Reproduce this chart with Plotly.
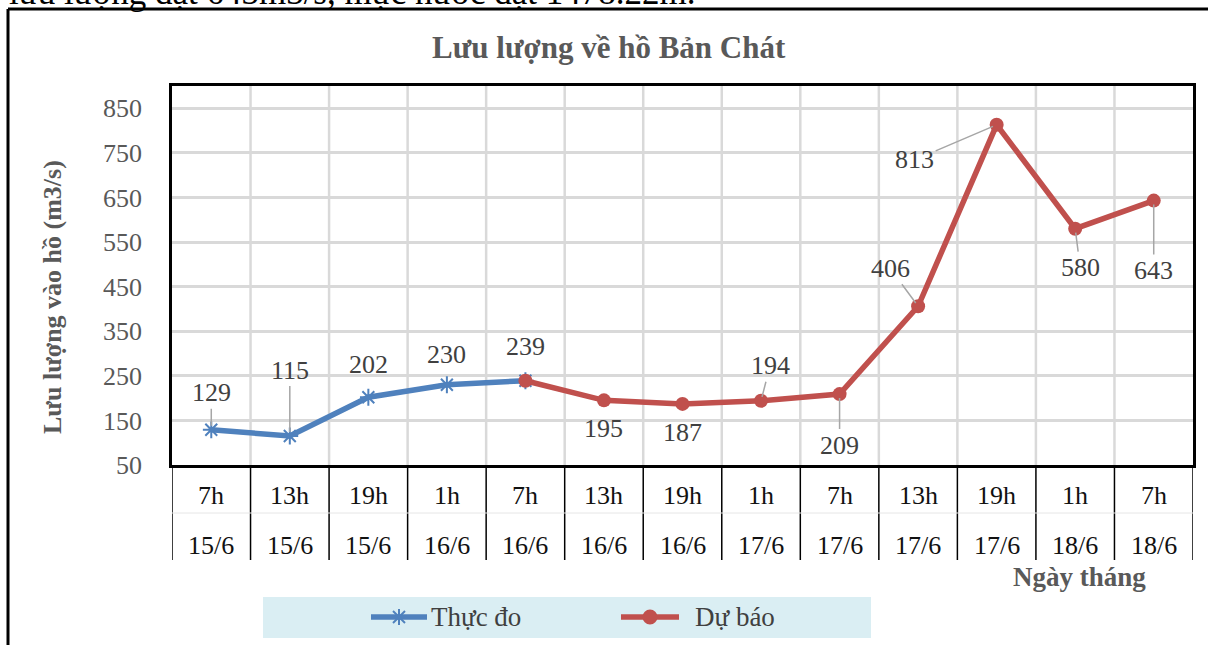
import plotly.graph_objects as go

# ---- data ----
hours = ["7h", "13h", "19h", "1h", "7h", "13h", "19h", "1h", "7h", "13h", "19h", "1h", "7h"]
dates = ["15/6", "15/6", "15/6", "16/6", "16/6", "16/6", "16/6", "17/6", "17/6", "17/6", "17/6", "18/6", "18/6"]
thuc_do_idx = [0, 1, 2, 3, 4]
thuc_do = [129, 115, 202, 230, 239]
du_bao_idx = [4, 5, 6, 7, 8, 9, 10, 11, 12]
du_bao = [239, 195, 187, 194, 209, 406, 813, 580, 643]
series_names = ["Thực đo", "Dự báo"]

# label offsets (px) and whether leader line is shown
lbl_td = [(0, -37, True), (0, -66, True), (0, -33, False), (0, -30, False), (0, -34, False)]
lbl_db = [None, (0, 28, False), (0, 29, False), (9, -35, True), (0, 51, True),
          (-28, -38, True), (-82, 35, True), (5, 39, True), (0, 70, True)]

W, H = 1208, 645
L, R, T, B = 172, 1193, 86, 465
PW, PH = R - L, B - T
SERIF = "Liberation Serif"


def px(x):
    return (x - L) / PW


def py(y):
    return (B - y) / PH


BLUE = "#4F81BD"
RED = "#C0504D"
GRID = "#D9D9D9"

fig = go.Figure()
fig.add_trace(go.Scatter(
    x=thuc_do_idx, y=thuc_do, name=series_names[0], mode="lines+markers",
    line=dict(color=BLUE, width=5.5),
    marker=dict(symbol="asterisk-open", size=14, color=BLUE, line=dict(color=BLUE, width=2)),
))
fig.add_trace(go.Scatter(
    x=du_bao_idx, y=du_bao, name=series_names[1], mode="lines+markers",
    line=dict(color=RED, width=5.5),
    marker=dict(symbol="circle", size=14, color=RED),
))

ann = []
shapes = []


def data_label(i, v, off):
    ax, ay, lead = off
    ann.append(dict(
        x=i, y=v, xref="x", yref="y", text=str(v), showarrow=True,
        ax=ax, ay=ay, arrowhead=0, arrowwidth=1.5, standoff=4,
        arrowcolor="#A6A6A6" if lead else "rgba(0,0,0,0)",
        font=dict(family=SERIF, size=26, color="#404040"),
    ))


for i, v, off in zip(thuc_do_idx, thuc_do, lbl_td):
    data_label(i, v, off)
for i, v, off in zip(du_bao_idx, du_bao, lbl_db):
    if off is not None:
        data_label(i, v, off)

# category table labels
for i, (h, d) in enumerate(zip(hours, dates)):
    ann.append(dict(x=i, y=py(495), xref="x", yref="paper", text=h, showarrow=False,
                    xanchor="center", yanchor="middle",
                    font=dict(family=SERIF, size=26, color="#111111")))
    ann.append(dict(x=i, y=py(545), xref="x", yref="paper", text=d, showarrow=False,
                    xanchor="center", yanchor="middle",
                    font=dict(family=SERIF, size=26, color="#111111")))

# vertical gridlines + table separators
n = len(hours)
for k in range(n + 1):
    xb = k - 0.5
    if 0 < k < n:
        shapes.append(dict(type="line", xref="x", yref="paper", x0=xb, x1=xb, y0=0, y1=1,
                           line=dict(color=GRID, width=2.5), layer="below"))
    shapes.append(dict(type="line", xref="x", yref="paper", x0=xb, x1=xb, y0=0, y1=py(560),
                       line=dict(color="#000000", width=1.5)))
shapes.append(dict(type="line", xref="paper", yref="paper", x0=0, x1=1, y0=py(513), y1=py(513),
                   line=dict(color="#E6E6E6", width=1)))

# ---- legend (drawn manually so it does not push the margins) ----
shapes.append(dict(type="rect", xref="paper", yref="paper", x0=px(263), x1=px(871),
                   y0=py(638), y1=py(597), fillcolor="#DAEEF3", line=dict(width=0), layer="below"))
LEG_Y = 617


def pix_line(cx, cy, x0, y0, x1, y1, color, width):
    shapes.append(dict(type="line", xref="paper", yref="paper",
                       xsizemode="pixel", ysizemode="pixel",
                       xanchor=px(cx), yanchor=py(cy), x0=x0, x1=x1, y0=y0, y1=y1,
                       line=dict(color=color, width=width)))


# Thực đo entry: line + asterisk
pix_line(399, LEG_Y, -28, 0, 28, 0, BLUE, 5.5)
pix_line(399, LEG_Y, -8, 0, 8, 0, BLUE, 2)
pix_line(399, LEG_Y, 0, -8, 0, 8, BLUE, 2)
pix_line(399, LEG_Y, -6, -6, 6, 6, BLUE, 2)
pix_line(399, LEG_Y, -6, 6, 6, -6, BLUE, 2)
# Dự báo entry: line + circle
pix_line(650, LEG_Y, -29, 0, 29, 0, RED, 5.5)
shapes.append(dict(type="circle", xref="paper", yref="paper", xsizemode="pixel", ysizemode="pixel",
                   xanchor=px(650), yanchor=py(LEG_Y), x0=-7.5, x1=7.5, y0=-7.5, y1=7.5,
                   fillcolor=RED, line=dict(width=0)))
ann.append(dict(x=px(429), y=py(LEG_Y), xref="paper", yref="paper", showarrow=False,
                xanchor="left", yanchor="middle", text=series_names[0],
                font=dict(family=SERIF, size=27, color="#404040")))
ann.append(dict(x=px(693), y=py(LEG_Y), xref="paper", yref="paper", showarrow=False,
                xanchor="left", yanchor="middle", text=series_names[1],
                font=dict(family=SERIF, size=27, color="#404040")))

# outer frame (kept inside the figure)
shapes.append(dict(type="line", xref="paper", yref="paper", x0=px(8), x1=px(1208), y0=py(9), y1=py(9),
                   line=dict(color="#000000", width=3)))
shapes.append(dict(type="line", xref="paper", yref="paper", x0=px(8), x1=px(8), y0=py(9), y1=py(645),
                   line=dict(color="#000000", width=3)))

# titles
ann.append(dict(x=px(609), y=py(47), xref="paper", yref="paper", showarrow=False,
                xanchor="center", yanchor="middle",
                text="<b>Lưu lượng về hồ Bản Chát</b>",
                font=dict(family=SERIF, size=31, color="#595959")))
ann.append(dict(x=px(52), y=py(297), xref="paper", yref="paper", showarrow=False, textangle=-90,
                xanchor="center", yanchor="middle",
                text="<b>Lưu lượng vào hồ (m3/s)</b>",
                font=dict(family=SERIF, size=26, color="#595959")))
ann.append(dict(x=px(1079), y=py(577), xref="paper", yref="paper", showarrow=False,
                xanchor="center", yanchor="middle",
                text="<b>Ngày tháng</b>",
                font=dict(family=SERIF, size=27, color="#595959")))
# clipped text from the document above the chart
ann.append(dict(x=px(697), y=py(-8), xref="paper", yref="paper", showarrow=False, xanchor="right",
                yanchor="middle", text="lưu lượng đạt 643m3/s, mực nước đạt 1478.22m.",
                font=dict(family=SERIF, size=35, color="#000000")))

fig.update_layout(
    width=W, height=H,
    margin=dict(l=L, r=W - R, t=T, b=H - B, pad=0, autoexpand=False),
    paper_bgcolor="white", plot_bgcolor="white",
    showlegend=False,
    annotations=ann, shapes=shapes,
    xaxis=dict(range=[-0.5, n - 0.5], showticklabels=False, showgrid=False, zeroline=False,
               showline=True, mirror=True, linecolor="#000000", linewidth=2.5, ticks="",
               automargin=False),
    yaxis=dict(range=[50, 900], tickvals=[50, 150, 250, 350, 450, 550, 650, 750, 850],
               showgrid=True, gridcolor=GRID, gridwidth=2.5, zeroline=False,
               showline=True, mirror=True, linecolor="#000000", linewidth=2.5, ticks="",
               ticklabelstandoff=22, automargin=False,
               tickfont=dict(family=SERIF, size=26, color="#595959")),
)

fig.write_html("out.html", config={"displayModeBar": False},
               post_script="document.documentElement.style.overflow='hidden';"
                           "document.body.style.margin='0';document.body.style.padding='0';"
                           "document.body.style.overflow='hidden';")
